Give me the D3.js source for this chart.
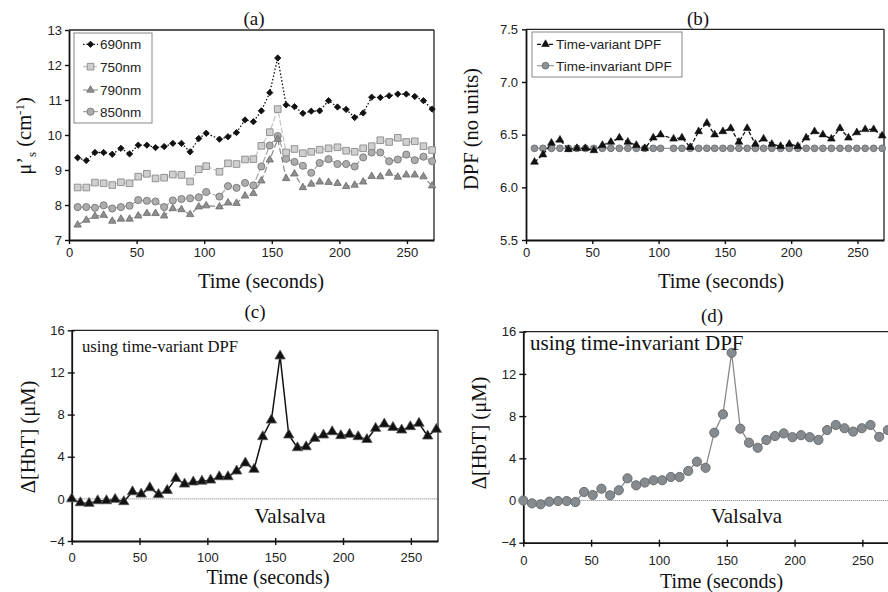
<!DOCTYPE html>
<html><head><meta charset="utf-8">
<script src="https://cdn.jsdelivr.net/npm/d3@7/dist/d3.min.js"></script>
<style>body{margin:0;background:#fff}svg{display:block}</style>
</head><body>
<svg id="chart" width="888" height="592"></svg>
<script>
// ---------- data ----------
const timeAB = [6.4,12.8,19.2,25.6,32,38.4,44.8,51.2,57.6,64,70.4,76.8,83.2,89.6,96,101.5,111.3,117.6,123.9,130.2,136.4,
  142.3,148.5,154.4,160.6,166.8,173,179.2,185.4,192,198.6,205,211.3,217.6,223.9,230.3,236.8,243.2,249.5,255.8,262.2,268.6];
const mus690 = [9.35,9.27,9.5,9.5,9.45,9.62,9.46,9.71,9.71,9.64,9.67,9.76,9.76,9.52,9.9,10.05,9.88,9.95,10.07,10.43,10.38,
  10.69,11.21,12.2,10.86,10.81,10.62,10.68,10.69,10.98,10.8,10.73,10.5,10.63,11.08,11.07,11.12,11.17,11.17,11.1,10.98,10.74];
const mus750 = [8.5,8.5,8.64,8.62,8.57,8.65,8.62,8.81,8.89,8.76,8.78,8.87,8.86,8.67,9.02,9.11,8.95,9.19,9.17,9.3,9.31,
  9.69,10.08,10.74,9.5,9.6,9.48,9.52,9.58,9.62,9.65,9.55,9.52,9.62,9.68,9.85,9.8,9.92,9.8,9.82,9.68,9.57];
const mus790 = [7.43,7.57,7.68,7.71,7.54,7.6,7.6,7.69,7.76,7.76,7.69,7.9,7.87,7.73,7.95,7.98,7.95,8.06,8.05,8.26,8.33,
  8.69,9.29,9.88,8.76,8.89,8.5,8.6,8.66,8.65,8.62,8.53,8.57,8.66,8.82,8.81,8.91,8.8,8.86,8.86,8.81,8.55];
const mus850 = [7.94,7.94,7.92,7.99,7.9,7.94,7.98,8.14,8.12,8.1,7.94,8.13,8.17,8.19,8.22,8.37,8.24,8.54,8.49,8.63,8.56,
  9.1,9.7,9.97,9.32,9.23,9.12,8.92,9.2,9.31,9.17,9.17,9.1,9.36,9.5,9.5,9.25,9.3,9.44,9.28,9.38,9.25];
const dpfVariant = [6.24,6.31,6.42,6.45,6.36,6.37,6.37,6.35,6.4,6.43,6.47,6.43,6.4,6.37,6.47,6.5,6.46,6.47,6.38,6.53,6.61,
  6.5,6.53,6.56,6.43,6.56,6.41,6.46,6.41,6.39,6.41,6.39,6.47,6.53,6.5,6.46,6.56,6.47,6.52,6.55,6.55,6.49];
const dpfInvariant = [6.37,6.37,6.37,6.37,6.37,6.37,6.37,6.37,6.37,6.37,6.37,6.37,6.37,6.37,6.37,6.37,6.37,6.37,6.37,6.37,6.37,
  6.37,6.37,6.37,6.37,6.37,6.37,6.37,6.37,6.37,6.37,6.37,6.37,6.37,6.37,6.37,6.37,6.37,6.37,6.37,6.37,6.37];
const timeCD = [0,6.4,12.8,19.2,25.6,32,38.4,44.8,51.2,57.6,64,70.4,76.8,83.2,89.6,96,102.4,108.8,115.2,121.6,128,134.4,
  140.8,147.2,153.6,160,166.4,172.8,179.2,185.6,192,198.4,204.8,211.2,217.6,224,230.4,236.8,243.2,249.6,256,262.4,268.8];
const hbtVariant = [0,-0.37,-0.43,-0.18,-0.18,-0.05,-0.27,0.67,0.45,1.05,0.42,0.8,1.94,1.4,1.6,1.68,1.78,2.1,2.1,2.64,3.4,2.8,
  5.9,7.48,13.56,6.06,4.85,4.94,5.74,6.06,6.37,6.0,6.13,5.9,5.63,6.69,7.1,6.78,6.53,6.85,7.17,5.96,6.6];
const hbtInvariant = [0,-0.27,-0.36,-0.11,-0.05,-0.05,-0.15,0.81,0.52,1.12,0.49,0.97,2.1,1.44,1.7,1.92,1.92,2.23,2.23,2.8,3.68,3.1,
  6.43,8.17,14.0,6.81,5.48,5.0,5.74,6.11,6.36,6.0,6.19,6.0,5.74,6.68,7.16,6.85,6.53,6.85,7.16,6.03,6.68];
const xTicks = [0,50,100,150,200,250];
const yTicksA = [7,8,9,10,11,12,13];
const yTicksB = [5.5,6.0,6.5,7.0,7.5];
const yTicksCD = [-4,0,4,8,12,16];
const legendA = ["690nm","750nm","790nm","850nm"];
const legendB = ["Time-variant DPF","Time-invariant DPF"];

// ---------- drawing ----------
const svg = d3.select("#chart");
const SANS = "'Liberation Sans', Arial, sans-serif";
const SERIF = "'Liberation Serif', 'Times New Roman', serif";

function makePanel(p) {
  const x = d3.scaleLinear().domain([0, 270]).range([p.l, p.r]);
  const y = d3.scaleLinear().domain(p.yd).range([p.b, p.t]);
  const g = svg.append("g");
  g.append("line").attr("x1", p.l).attr("x2", p.r).attr("y1", p.t).attr("y2", p.t)
    .attr("stroke", "#222").attr("stroke-width", 1.3);
  g.append("line").attr("x1", p.r).attr("x2", p.r).attr("y1", p.t).attr("y2", p.b)
    .attr("stroke", "#222").attr("stroke-width", 1.3);
  const xa = g.append("g").attr("transform", `translate(0,${p.b})`)
    .call(d3.axisBottom(x).tickValues(xTicks).tickSizeInner(4).tickSizeOuter(0).tickPadding(p.xpad));
  xa.selectAll(".tick line").attr("y1", -p.cross);
  const ya = g.append("g").attr("transform", `translate(${p.l},0)`)
    .call(d3.axisLeft(y).tickValues(p.yt).tickFormat(p.yf).tickSizeInner(4).tickSizeOuter(0).tickPadding(p.ypad));
  ya.selectAll(".tick line").attr("x1", p.cross);
  [xa, ya].forEach(a => {
    a.select(".domain").attr("stroke", "#111").attr("stroke-width", 1.8);
    a.selectAll(".tick line").attr("stroke", "#111").attr("stroke-width", 1.4);
    a.selectAll(".tick text").attr("font-family", SANS).attr("font-size", 13).attr("fill", "#222");
  });
  return {x, y, g};
}

function series(P, xs, ys, o) {
  const pts = xs.map((t, i) => [t, ys[i]]);
  const line = d3.line().x(d => P.x(d[0])).y(d => P.y(d[1]));
  P.g.append("path").datum(pts).attr("d", line).attr("fill", "none")
    .attr("stroke", o.line).attr("stroke-width", o.lw).attr("stroke-dasharray", o.dash || null);
  const sym = d3.symbol().type(o.sym).size(o.size);
  P.g.selectAll(null).data(pts).enter().append("path")
    .attr("d", sym)
    .attr("transform", d => `translate(${P.x(d[0])},${P.y(d[1])})${o.rot ? " rotate(45)" : ""}`)
    .attr("fill", o.fill).attr("stroke", o.stroke).attr("stroke-width", o.sw);
}

function legendItem(g, x0, x1, yy, label, o, tx, fs) {
  g.append("line").attr("x1", x0).attr("x2", x1).attr("y1", yy).attr("y2", yy)
    .attr("stroke", o.line).attr("stroke-width", o.lw).attr("stroke-dasharray", o.dash || null);
  g.append("path").attr("d", d3.symbol().type(o.sym).size(o.size))
    .attr("transform", `translate(${(x0 + x1) / 2},${yy})${o.rot ? " rotate(45)" : ""}`)
    .attr("fill", o.fill).attr("stroke", o.stroke).attr("stroke-width", o.sw);
  g.append("text").attr("x", tx).attr("y", yy).attr("dy", "0.36em")
    .attr("font-family", SANS).attr("font-size", fs).attr("fill", "#222").text(label);
}

function text(x, y, s, size, anchor, rot) {
  const t = svg.append("text").attr("font-family", SERIF).attr("font-size", size)
    .attr("text-anchor", anchor || "middle").attr("fill", "#111");
  if (rot) t.attr("transform", `translate(${x},${y}) rotate(-90)`);
  else t.attr("x", x).attr("y", y);
  if (typeof s === "string") t.text(s);
  return t;
}

const st690 = {sym: d3.symbolSquare, size: 20, rot: true, fill: "#111", stroke: "#111", sw: 0.8, line: "#111", lw: 1.3, dash: "1.5,2"};
const st750 = {sym: d3.symbolSquare, size: 44, fill: "#cfcfcf", stroke: "#8a8a8a", sw: 0.9, line: "#c4c4c4", lw: 1.2, dash: "6,2"};
const st790 = {sym: d3.symbolTriangle, size: 24, fill: "#8e8e8e", stroke: "#6a6a6a", sw: 0.8, line: "#8a8a8a", lw: 1.2, dash: "6,3"};
const st850 = {sym: d3.symbolCircle, size: 40, fill: "#adadad", stroke: "#767676", sw: 0.9, line: "#a4a4a4", lw: 1.2, dash: "7,2"};
const stDV = {sym: d3.symbolTriangle, size: 26, fill: "#111", stroke: "#111", sw: 0.6, line: "#111", lw: 1.3, dash: "4,2"};
const stDI = {sym: d3.symbolCircle, size: 36, fill: "#8d9296", stroke: "#6c6e70", sw: 0.9, line: "#9a9a9a", lw: 1.2};
const stHV = {sym: d3.symbolTriangle, size: 46, fill: "#111", stroke: "#555", sw: 0.8, line: "#111", lw: 1.5};
const stHI = {sym: d3.symbolCircle, size: 66, fill: "#868b8f", stroke: "#6a6e70", sw: 1, line: "#8a8a8a", lw: 1.3};

// Panel (a)
const A = makePanel({l: 69, r: 434, t: 30, b: 240, yd: [7, 13], yt: yTicksA, yf: d3.format("d"), cross: 0, xpad: 4, ypad: 3});
series(A, timeAB, mus850, st850);
series(A, timeAB, mus790, st790);
series(A, timeAB, mus750, st750);
series(A, timeAB, mus690, st690);
A.g.append("rect").attr("x", 74).attr("y", 33).attr("width", 78).attr("height", 90)
  .attr("fill", "#fff").attr("stroke", "#888").attr("stroke-width", 1);
[st690, st750, st790, st850].forEach((s, i) =>
  legendItem(A.g, 83, 98, [44.3, 66.7, 90, 111.7][i], legendA[i], s, 100, 13.5));
text(254, 24.5, "(a)", 19);
text(261, 288, "Time (seconds)", 20.5);
{
  const t = text(31, 136, null, 20.5, "middle", true);
  t.append("tspan").text("\u03BC\u2019");
  t.append("tspan").attr("dy", 5).attr("font-size", 13).text("s");
  t.append("tspan").attr("dy", -5).text(" (cm");
  t.append("tspan").attr("dy", -7).attr("font-size", 13).text("-1");
  t.append("tspan").attr("dy", 7).text(")");
}

// Panel (b)
const B = makePanel({l: 526, r: 884, t: 29.3, b: 240, yd: [5.5, 7.5], yt: yTicksB, yf: d3.format(".1f"), cross: 0, xpad: 4, ypad: 4});
series(B, timeAB, dpfInvariant, stDI);
series(B, timeAB, dpfVariant, stDV);
B.g.append("rect").attr("x", 532).attr("y", 32).attr("width", 150).attr("height", 45)
  .attr("fill", "#fff").attr("stroke", "#888").attr("stroke-width", 1);
legendItem(B.g, 537, 554, 44.3, legendB[0], stDV, 556, 13.5);
legendItem(B.g, 537, 554, 65.7, legendB[1], stDI, 556, 13.5);
text(698, 24.5, "(b)", 19);
text(721, 288, "Time (seconds)", 20.5);
text(478, 129, "DPF (no units)", 20.5, "middle", true);

// Panel (c)
const C = makePanel({l: 71.7, r: 438, t: 330.3, b: 541, yd: [-4, 16], yt: yTicksCD, yf: d3.format("d"), cross: 3, xpad: 8, ypad: 3});
C.g.append("line").attr("x1", C.x(0)).attr("x2", C.x(270)).attr("y1", C.y(0)).attr("y2", C.y(0))
  .attr("stroke", "#777").attr("stroke-width", 1).attr("stroke-dasharray", "1,1");
series(C, timeCD, hbtVariant, stHV);
text(255, 318, "(c)", 19);
text(268, 584, "Time (seconds)", 20);
text(82, 352, "using time-variant DPF", 17, "start")
  .attr("textLength", 156).attr("lengthAdjust", "spacingAndGlyphs");
text(290, 523, "Valsalva", 21);
text(35, 437, "\u0394[HbT] (\u03BCM)", 20.5, "middle", true);

// Panel (d)
const D = makePanel({l: 523.3, r: 889.5, t: 331.7, b: 542.7, yd: [-4, 16], yt: yTicksCD, yf: d3.format("d"), cross: 3, xpad: 9, ypad: 3});
D.g.append("line").attr("x1", D.x(0)).attr("x2", D.x(270)).attr("y1", D.y(0)).attr("y2", D.y(0))
  .attr("stroke", "#777").attr("stroke-width", 1).attr("stroke-dasharray", "1,1");
series(D, timeCD, hbtInvariant, stHI);
text(712, 322, "(d)", 19);
text(721.5, 588, "Time (seconds)", 20);
text(530, 350, "using time-invariant DPF", 21, "start");
text(746.5, 523, "Valsalva", 21);
text(486, 433, "\u0394[HbT] (\u03BCM)", 20.5, "middle", true);
</script>
</body></html>
